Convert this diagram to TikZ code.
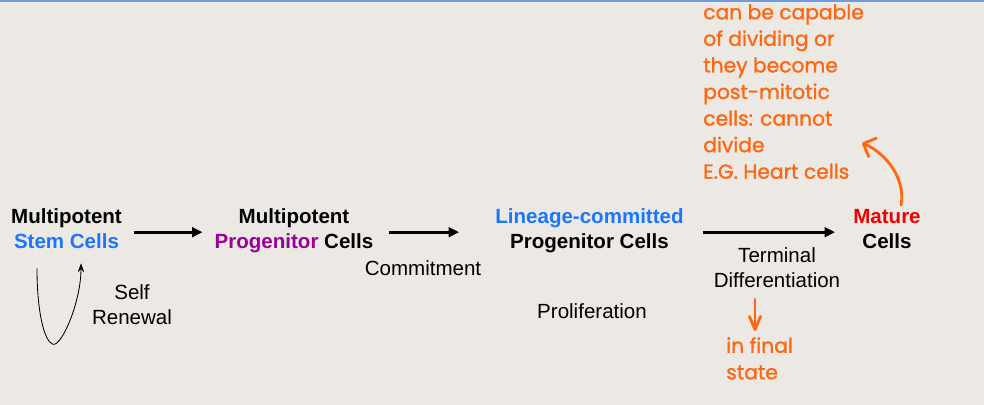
\documentclass[tikz,border=0pt]{standalone}
\usepackage{fontspec}
\setmainfont{Liberation Sans}
\newfontfamily\handfont[FakeBold=1.2]{Poppins}
\usetikzlibrary{arrows.meta, positioning, calc}
\definecolor{cBack}{RGB}{236,233,229}
\definecolor{cTop}{RGB}{110,155,225}
\definecolor{cStem}{RGB}{26,117,255}
\definecolor{cProg}{RGB}{153,0,153}
\definecolor{cMature}{RGB}{240,0,0}
\definecolor{cInk}{RGB}{255,102,17}
\tikzset{
	cell/.style     ={align=center, inner sep=0pt, font=\bfseries\fontsize{14.6}{17.8}\selectfont},
	lbl/.style      ={align=center, inner sep=0pt, font=\fontsize{14.6}{17.8}\selectfont},
	note/.style     ={align=left, inner sep=0pt, text=cInk, font=\handfont\fontsize{14.4}{18.9}\selectfont},
	flowarrow/.style={-{Triangle[length=0.26cm, width=0.24cm]}, line width=2pt},
	loopline/.style ={-{Stealth[length=0.22cm, width=0.16cm]}, line width=0.6pt},
	inkarrow/.style ={line width=2pt, cInk, line cap=round},
}
\begin{document}
\begin{tikzpicture}[x=0.025cm, y=-0.025cm]
	% background and top rule
	\fill[cBack] (0,0) rectangle (984,405);
	\fill[cTop] (0,0) rectangle (984,2.5);
	\useasboundingbox (0,0) rectangle (984,405);
	% cells along the lineage
	\node[cell] (stem) at (66.5,229) {Multipotent\\\textcolor{cStem}{Stem Cells}};
	\node[cell] (mpp) at (294,231) {Multipotent\\\textcolor{cProg}{Progenitor} Cells};
	\node[cell] (lcp) at (589.5,231) {\textcolor{cStem}{Lineage-committed}\\Progenitor Cells};
	\node[cell] (mature) at (887,229) {\textcolor{cMature}{Mature}\\Cells};
	% step labels
	\node[lbl] (renew) at (132,305) {Self\\Renewal};
	\node[lbl] (commit) at (423,268) {Commitment};
	\node[lbl] (prolif) at (592,311) {Proliferation};
	\node[lbl] (term) at (777,268) {Terminal\\Differentiation};
	% main arrows
	\draw[flowarrow] ([xshift=0.3cm, yshift=-0.08cm]stem.east) -- ([xshift=-0.3cm, yshift=-0.08cm]stem.east -| mpp.west);
	\draw[flowarrow] ([xshift=0.38cm, yshift=-0.03cm]mpp.east) -- ([xshift=-0.9cm, yshift=-0.03cm]mpp.east -| lcp.west);
	\draw[flowarrow] ([xshift=0.48cm, yshift=-0.03cm]lcp.east) -- ([xshift=-0.45cm, yshift=-0.03cm]lcp.east -| mature.west);
	% self renewal loop
	\draw[loopline] ($(stem.south)+(-29.5,19)$) .. controls ($(stem.south)+(-29.5,62)$) and ($(stem.south)+(-22.5,92)$) .. ($(stem.south)+(-13.5,95)$)
		.. controls ($(stem.south)+(-4.5,97)$) and ($(stem.south)+(14.5,52)$) .. ($(stem.south)+(14.5,14)$);
	% handwritten notes
	\node[note, anchor=north west] (notes) at (703,4) {can be capable\\of dividing or\\they become\\post-mitotic\\cells: cannot\\divide\\E.G. Heart cells};
	\coordinate (notesend) at (862,143);
	\draw[inkarrow, -{Straight Barb[length=0.25cm, width=0.5cm, round]}] ($(mature.north)+(14,-4)$) .. controls ($(mature.north)+(19,-30)$) and ($(mature.north)+(-1,-56)$) .. (notesend);
	\node[note, anchor=north west] (final) at (726,337) {in final\\state};
	\draw[inkarrow, -{Straight Barb[length=0.33cm, width=0.28cm, round]}] ([xshift=-0.55cm, yshift=-0.27cm]term.south) -- ([xshift=-0.55cm, yshift=0.15cm]term.south |- final.north);
\end{tikzpicture}
\end{document}
